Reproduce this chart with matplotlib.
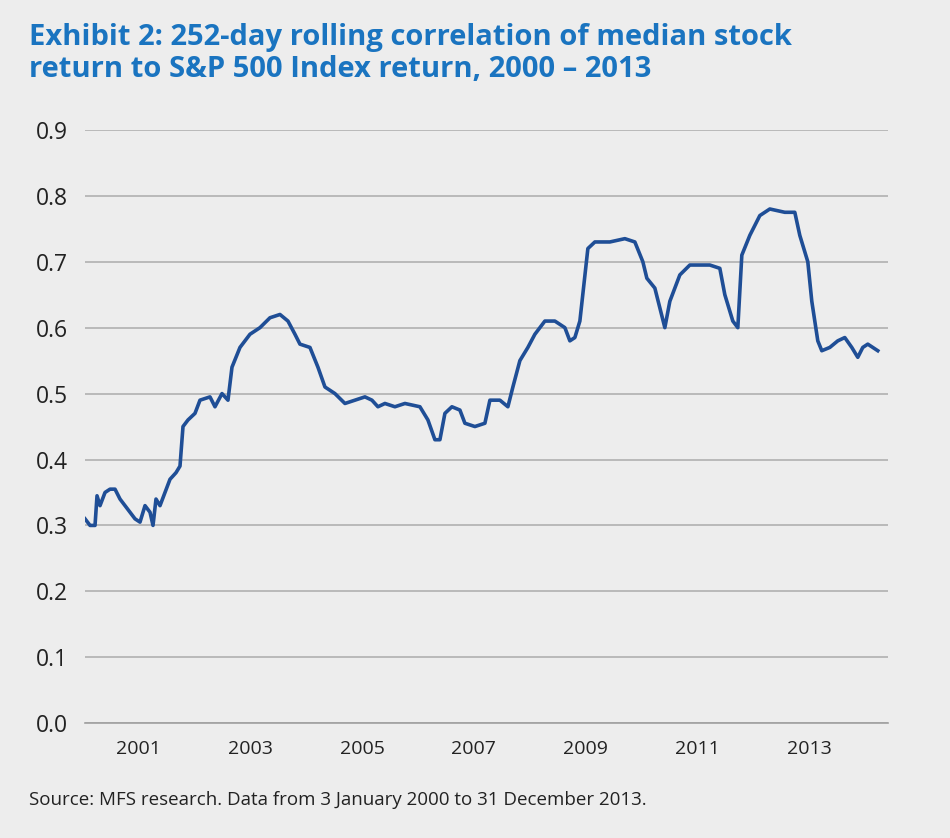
import matplotlib.pyplot as plt

# (pixel x, correlation)
px = [85, 90, 95, 97, 100, 105, 110, 115, 120, 125, 130, 135, 140, 145, 150, 153, 156, 160, 165, 170,
      176, 180, 183, 188, 195, 200, 210, 215, 222, 228, 232, 240, 250, 260, 270, 280, 288, 295, 300, 310,
      318, 325, 335, 345, 355, 365, 372, 378, 385, 395, 405, 420, 428, 435, 440, 445, 452, 460, 465, 475,
      485, 490, 500, 508, 513, 520, 528, 535, 545, 555, 565, 570, 575, 580, 588, 595, 610, 625, 635, 643,
      647, 655, 660, 665, 670, 680, 690, 700, 710, 720, 725, 733, 738, 742, 750, 760, 770, 785, 795, 800,
      808, 812, 818, 822, 830, 838, 845, 852, 858, 863, 868, 873, 878]
corr = [0.31, 0.30, 0.30, 0.345, 0.33, 0.35, 0.355, 0.355, 0.34, 0.33, 0.32, 0.31, 0.305, 0.33, 0.32, 0.30, 0.34, 0.33, 0.35, 0.37,
        0.38, 0.39, 0.45, 0.46, 0.47, 0.49, 0.495, 0.48, 0.50, 0.49, 0.54, 0.57, 0.59, 0.60, 0.615, 0.62, 0.61, 0.59, 0.575, 0.57,
        0.54, 0.51, 0.50, 0.485, 0.49, 0.495, 0.49, 0.48, 0.485, 0.48, 0.485, 0.48, 0.46, 0.43, 0.43, 0.47, 0.48, 0.475, 0.455, 0.45,
        0.455, 0.49, 0.49, 0.48, 0.51, 0.55, 0.57, 0.59, 0.61, 0.61, 0.60, 0.58, 0.585, 0.61, 0.72, 0.73, 0.73, 0.735, 0.73, 0.70,
        0.675, 0.66, 0.63, 0.60, 0.64, 0.68, 0.695, 0.695, 0.695, 0.69, 0.65, 0.61, 0.60, 0.71, 0.74, 0.77, 0.78, 0.775, 0.775, 0.74,
        0.70, 0.64, 0.58, 0.565, 0.57, 0.58, 0.585, 0.57, 0.555, 0.57, 0.575, 0.57, 0.565]
years = [2000 + (p - 82) / 56 for p in px]

xticks = [2001, 2003, 2005, 2007, 2009, 2011, 2013]
yticks = [i / 10 for i in range(10)]

bg = '#ededed'
plt.rcParams['font.family'] = ['Open Sans', 'DejaVu Sans']
fig = plt.figure(figsize=(9.5, 8.38), dpi=100, facecolor=bg)
ax = fig.add_axes([0.0895, 0.137, 0.845, 0.708], facecolor=bg)

ax.plot(years, corr, color='#1f4e96', lw=2.6)

ax.set_xlim(2000 + 3 / 56, 2000 + 806 / 56)
ax.set_ylim(0, 0.9)
ax.set_yticks(yticks)
ax.set_yticklabels([f'{v:.1f}' for v in yticks])
ax.set_xticks(xticks)
ax.set_xticklabels([str(y) for y in xticks])
ax.tick_params(axis='y', length=0, labelsize=16.5, pad=12, colors='#222222')
ax.tick_params(axis='x', length=0, labelsize=14, pad=12, colors='#222222')
ax.grid(axis='y', color='#b0b0b0', lw=1.2)
ax.set_axisbelow(True)
for s in ['top', 'right', 'left']:
    ax.spines[s].set_visible(False)
ax.spines['bottom'].set_color('#a0a0a0')
ax.spines['bottom'].set_linewidth(1.2)

fig.text(0.031, 0.972, 'Exhibit 2: 252-day rolling correlation of median stock\nreturn to S&P 500 Index return, 2000 – 2013',
         color='#1a74c0', fontsize=21, fontweight='bold', va='top', ha='left', linespacing=1.1)
fig.text(0.031, 0.045, 'Source: MFS research. Data from 3 January 2000 to 31 December 2013.',
         color='#222222', fontsize=13.5, ha='left', va='center')

fig.savefig('out.png', dpi=100, facecolor=bg)
